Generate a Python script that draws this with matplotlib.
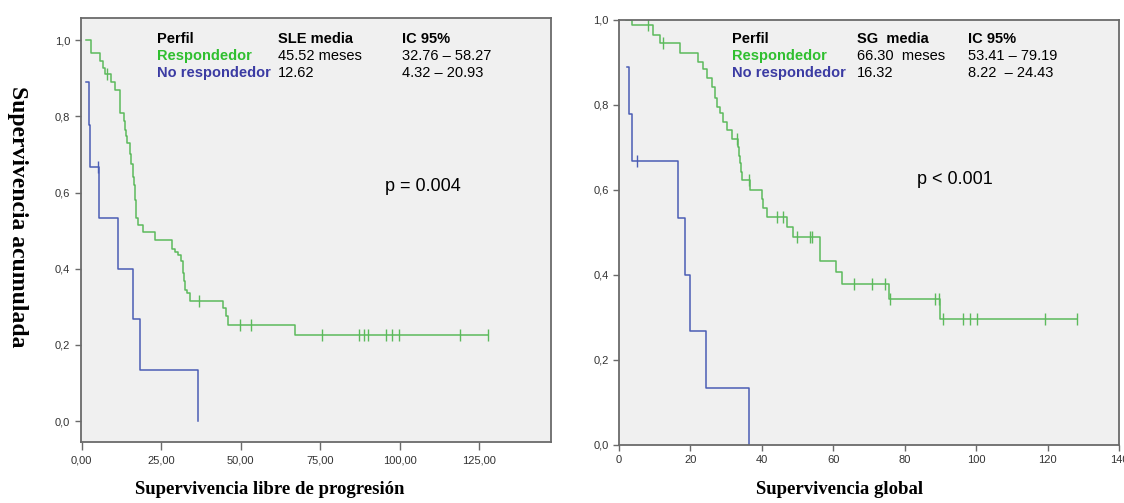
import numpy as np
import matplotlib
matplotlib.use('Agg')
import matplotlib.pyplot as plt

plt.rcParams['font.family'] = ['Liberation Sans', 'DejaVu Sans']

# Kaplan-Meier curves (time in months, survival after each step)
# --- Supervivencia libre de progresion (SLE) ---
pfs_resp_t = [1.5, 3.0, 5.9, 6.7, 7.3, 9.3, 10.6, 11.9, 13.2, 13.6, 14.0, 14.3, 15.1, 15.5,
              16.1, 16.4, 16.7, 17.0, 17.2, 17.8, 19.4, 23.0, 28.3, 29.3, 30.4, 31.2, 32.0,
              32.3, 32.6, 33.0, 34.1, 44.5, 45.3, 46.0, 67.1, 127.8]
pfs_resp_s = [1.0, 0.966, 0.944, 0.926, 0.910, 0.891, 0.868, 0.808, 0.787, 0.765, 0.748, 0.729,
              0.700, 0.676, 0.641, 0.620, 0.580, 0.553, 0.532, 0.514, 0.497, 0.475, 0.453,
              0.445, 0.436, 0.419, 0.390, 0.368, 0.345, 0.335, 0.315, 0.296, 0.275, 0.252,
              0.227, 0.227]
pfs_resp_cens = [7.9, 36.9, 49.8, 53.3, 75.4, 87.3, 88.6, 89.9, 95.7, 97.4, 99.6, 118.8, 127.6]

pfs_nr_t = [1.5, 2.2, 2.7, 5.3, 11.5, 16.2, 18.3, 36.7]
pfs_nr_s = [0.889, 0.778, 0.667, 0.533, 0.400, 0.267, 0.133, 0.0]
pfs_nr_cens = [5.1]

# --- Supervivencia global (SG) ---
os_resp_t = [2.0, 3.55, 9.6, 11.5, 17.1, 22.2, 23.6, 24.6, 26.0, 26.9, 27.4, 28.3, 29.2, 30.2,
             31.6, 33.4, 33.7, 34.0, 34.2, 34.5, 36.8, 40.0, 40.4, 41.4, 47.0, 48.8, 56.4,
             60.8, 62.3, 75.6, 90.0, 128.3]
os_resp_s = [1.0, 0.986, 0.964, 0.944, 0.922, 0.901, 0.883, 0.862, 0.842, 0.815, 0.795, 0.780,
             0.760, 0.740, 0.720, 0.700, 0.680, 0.662, 0.642, 0.623, 0.599, 0.577, 0.556,
             0.535, 0.512, 0.490, 0.432, 0.406, 0.378, 0.343, 0.296, 0.296]
os_resp_cens = [8.2, 12.2, 33.0, 36.5, 44.3, 46.0, 49.8, 53.5, 54.0, 65.7, 70.9, 74.4, 75.9,
                88.5, 89.5, 90.8, 96.2, 98.2, 100.1, 119.3, 128.1]

os_nr_t = [2.2, 2.9, 3.55, 16.6, 18.6, 20.0, 24.4, 36.5]
os_nr_s = [0.889, 0.778, 0.667, 0.533, 0.400, 0.267, 0.133, 0.0]
os_nr_cens = [5.1]

# Summary tables shown inside each panel
perfiles = ['Respondedor', 'No respondedor']
pfs_media = ['45.52 meses', '12.62']
pfs_ic = ['32.76 \u2013 58.27', '4.32 \u2013 20.93']
os_media = ['66.30  meses', '16.32']
os_ic = ['53.41 \u2013 79.19', '8.22  \u2013 24.43']

pfs_xticks = [0, 25, 50, 75, 100, 125]
os_xticks = [0, 20, 40, 60, 80, 100, 120, 140]
yticks = [0.0, 0.2, 0.4, 0.6, 0.8, 1.0]

green_line = '#5cba5c'
blue_line = '#4b5db5'
green_txt = '#2fbf2f'
blue_txt = '#3b3ba3'
frame = '#6a6a6a'

W, H = 1124, 503


def fx(x):
    return x / W


def fy(y):
    return 1 - y / H


def km_curve(ax, t, s, cens, color):
    ax.plot(t, s, drawstyle='steps-post', color=color, lw=1.1)
    idx = np.searchsorted(t, cens, side='right') - 1
    cy = np.array(s)[idx]
    ax.plot(cens, cy, ls='none', marker='|', ms=8, mew=1.0, color=color)


def style_axes(ax):
    ax.set_facecolor('#f0f0f0')
    for sp in ax.spines.values():
        sp.set_color(frame)
        sp.set_linewidth(1.3)
    ax.tick_params(direction='out', length=4, width=1, color=frame,
                   labelsize=8, labelcolor='#333333')
    ax.set_yticks(yticks)
    ax.set_yticklabels([f"{v:.1f}".replace('.', ',') for v in yticks])


fig = plt.figure(figsize=(W / 100, H / 100), dpi=100)

# Left panel: SLE
ax1 = fig.add_axes([fx(80.7), fy(441.7), (551 - 80.7) / W, (441.7 - 18) / H])
style_axes(ax1)
km_curve(ax1, pfs_resp_t, pfs_resp_s, pfs_resp_cens, green_line)
km_curve(ax1, pfs_nr_t, pfs_nr_s, pfs_nr_cens, blue_line)
ax1.set_xlim(-0.3, 147.5)
ax1.set_ylim(-0.054, 1.058)
ax1.set_xticks(pfs_xticks)
ax1.set_xticklabels([f"{v:.2f}".replace('.', ',') for v in pfs_xticks])
ax1.tick_params(axis='x', length=6, pad=4)

# Right panel: SG
ax2 = fig.add_axes([fx(619), fy(445), (1119 - 619) / W, (445 - 19.5) / H])
style_axes(ax2)
km_curve(ax2, os_resp_t, os_resp_s, os_resp_cens, green_line)
km_curve(ax2, os_nr_t, os_nr_s, os_nr_cens, blue_line)
ax2.set_xlim(0, 140)
ax2.set_ylim(0, 1.0)
ax2.set_xticks(os_xticks)
ax2.set_xticklabels([str(v) for v in os_xticks])

# Tables inside the panels
fs = 10.5
rows_y = [39, 56, 73]
for cols, head, media, ic in [((156.7, 278.3, 402.3), 'SLE media', pfs_media, pfs_ic),
                              ((731.7, 856.7, 968.3), 'SG  media', os_media, os_ic)]:
    fig.text(fx(cols[0]), fy(rows_y[0]), 'Perfil', fontsize=fs, weight='bold', va='center')
    fig.text(fx(cols[1]), fy(rows_y[0]), head, fontsize=fs, weight='bold', va='center')
    fig.text(fx(cols[2]), fy(rows_y[0]), 'IC 95%', fontsize=fs, weight='bold', va='center')
    for i, col in enumerate([green_txt, blue_txt]):
        fig.text(fx(cols[0]), fy(rows_y[i + 1]), perfiles[i], fontsize=fs, weight='bold',
                 color=col, va='center')
        fig.text(fx(cols[1]), fy(rows_y[i + 1]), media[i], fontsize=fs, va='center')
        fig.text(fx(cols[2]), fy(rows_y[i + 1]), ic[i], fontsize=fs, va='center')

fig.text(fx(385), fy(186), 'p = 0.004', fontsize=13, va='center')
fig.text(fx(917), fy(180), 'p < 0.001', fontsize=13, va='center')

# Axis titles (serif, bold)
fig.text(fx(17), fy(217), 'Supervivencia acumulada', rotation=-90, ha='center', va='center',
         family='Liberation Serif', weight='bold', fontsize=17)
fig.text(fx(270), fy(490), 'Supervivencia libre de progresi\u00f3n', ha='center', va='center',
         family='Liberation Serif', weight='bold', fontsize=13.5)
fig.text(fx(840), fy(490), 'Supervivencia global', ha='center', va='center',
         family='Liberation Serif', weight='bold', fontsize=13.5)

fig.savefig('out.png', dpi=100)
plt.close()
